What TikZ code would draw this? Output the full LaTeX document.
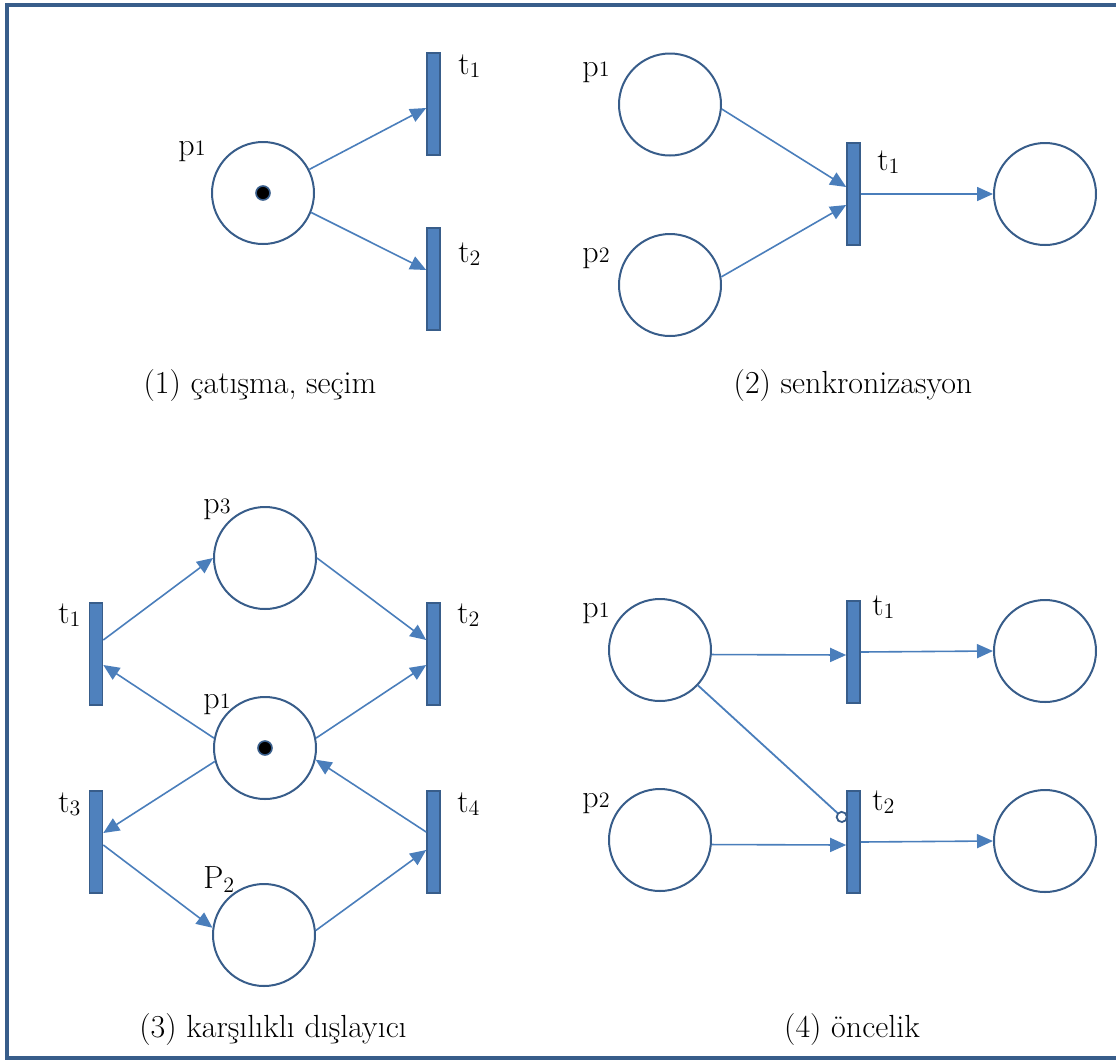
\documentclass[tikz,border=0pt]{standalone}
\usepackage{fontspec}
\usetikzlibrary{arrows.meta}
\definecolor{cPlace}{HTML}{385D8A}
\definecolor{cTrans}{HTML}{4F81BD}
\definecolor{cArc}{HTML}{4A7EBB}
\newcommand{\pn}[2]{#1{\fontsize{11}{11}\selectfont#2}}
\newcommand{\tn}[2]{#1\raisebox{-1.5pt}{\fontsize{11}{11}\selectfont#2}}
\tikzset{
  place/.style={circle, draw=cPlace, line width=1pt, minimum size=51pt, inner sep=0pt},
  trans/.style={rectangle, draw=cPlace, fill=cTrans, line width=0.8pt,
    minimum width=6.5pt, minimum height=51pt, inner sep=0pt},
  token/.style={circle, draw=cPlace, fill=black, line width=0.8pt, minimum size=7pt, inner sep=0pt},
  arc/.style={-{Triangle[length=8pt, width=7pt]}, line width=0.8pt, draw=cArc},
  inhib/.style={-{Circle[color=cPlace, open, length=6pt, width=6pt, line width=0.9pt]},
    line width=0.9pt, draw=cArc},
  lbl/.style={font=\fontsize{16}{16}\selectfont, inner sep=0pt, anchor=base west},
  caption/.style={font=\fontsize{16}{18}\selectfont, inner sep=0pt, anchor=base},
  frame/.style={draw=cPlace, line width=1.6pt},
}
\begin{document}
\begin{tikzpicture}[x=0.5pt, y=-0.5pt]
  \useasboundingbox (0,0) rectangle (1116,1062);
  \draw[frame] (7,5) rectangle (1130,1058);

  % (1) conflict / choice
  \node[place] (ap1) at (263,193) {};
  \node[token] (atok) at (ap1) {};
  \node[trans] (at1) at (433.5,104) {};
  \node[trans] (at2) at (433.5,279) {};
  \draw[arc] (ap1.27)  -- ([yshift=-2pt]at1.west);
  \draw[arc] (ap1.-22) -- ([yshift=4.5pt]at2.west);
  \node[lbl] (lap1) at (178,155) {\pn{p}{1}};
  \node[lbl] (lat1) at (458,74)  {\tn{t}{1}};
  \node[lbl] (lat2) at (458,262) {\tn{t}{2}};
  \node[caption] (capa) at (260,393) {(1) çatışma, seçim};

  % (2) synchronisation
  \node[place] (bp1) at (670,104.5) {};
  \node[place] (bp2) at (670,285) {};
  \node[trans] (bt1) at (853.5,194) {};
  \node[place] (bq)  at (1045,194) {};
  \draw[arc] (bp1.-5) -- ([yshift=3.5pt]bt1.west);
  \draw[arc] (bp2.9)  -- ([yshift=-5.5pt]bt1.west);
  \draw[arc] (bt1.east) -- (bq.west);
  \node[lbl] (lbp1) at (582,76)  {\pn{p}{1}};
  \node[lbl] (lbp2) at (582,262) {\pn{p}{2}};
  \node[lbl] (lbt1) at (877,170) {\tn{t}{1}};
  \node[caption] (capb) at (853,393) {(2) senkronizasyon};

  % (3) mutual exclusion
  \node[place] (cp3) at (265,558) {};
  \node[place] (cp1) at (265,748) {};
  \node[token] (ctok) at (cp1) {};
  \node[place] (cp2) at (264,935) {};
  \node[trans] (ct1) at (96,654) {};
  \node[trans] (ct2) at (433.5,654) {};
  \node[trans] (ct3) at (96,842) {};
  \node[trans] (ct4) at (433.5,842) {};
  \draw[arc] ([yshift=7pt]ct1.east) -- (cp3.west);
  \draw[arc] (cp3.east) -- ([yshift=7pt]ct2.west);
  \draw[arc] (cp1.169) -- ([yshift=-5.5pt]ct1.east);
  \draw[arc] (cp1.11)  -- ([yshift=-5.5pt]ct2.west);
  \draw[arc] (cp1.195) -- ([yshift=4.5pt]ct3.east);
  \draw[arc] ([yshift=5pt]ct4.west) -- (cp1.-13);
  \draw[arc] ([yshift=-1.5pt]ct3.east) -- (cp2.172);
  \draw[arc] (cp2.5) -- ([yshift=-4pt]ct4.west);
  \node[lbl] (lcp3) at (203,513) {\pn{p}{3}};
  \node[lbl] (lct1) at (58,623)  {\tn{t}{1}};
  \node[lbl] (lct2) at (457,623) {\tn{t}{2}};
  \node[lbl] (lcp1) at (203,708) {\pn{p}{1}};
  \node[lbl] (lct3) at (58,812)  {\tn{t}{3}};
  \node[lbl] (lct4) at (457,812) {\tn{t}{4}};
  \node[lbl] (lcp2) at (203,888) {P\raisebox{-2pt}{\fontsize{11}{11}\selectfont 2}};
  \node[caption] (capc) at (273,1037) {(3) karşılıklı dışlayıcı};

  % (4) priority
  \node[place] (dp1) at (660,650) {};
  \node[place] (dp2) at (660,840) {};
  \node[trans] (dt1) at (853.5,652) {};
  \node[trans] (dt2) at (853.5,842) {};
  \node[place] (dq1) at (1045,651) {};
  \node[place] (dq2) at (1045,841) {};
  \draw[arc] (dp1.-5) -- ([yshift=-1.5pt]dt1.west);
  \draw[arc] (dp2.-5) -- ([yshift=-1.5pt]dt2.west);
  \draw[arc] (dt1.east) -- (dq1.west);
  \draw[arc] (dt2.east) -- (dq2.west);
  \draw[inhib] (dp1.-43) -- ([yshift=10.5pt]dt2.west);
  \node[lbl] (ldp1) at (582,617) {\pn{p}{1}};
  \node[lbl] (ldp2) at (582,807) {\pn{p}{2}};
  \node[lbl] (ldt1) at (872,615) {\tn{t}{1}};
  \node[lbl] (ldt2) at (872,810) {\tn{t}{2}};
  \node[caption] (capd) at (852,1037) {(4) öncelik};
\end{tikzpicture}
\end{document}
